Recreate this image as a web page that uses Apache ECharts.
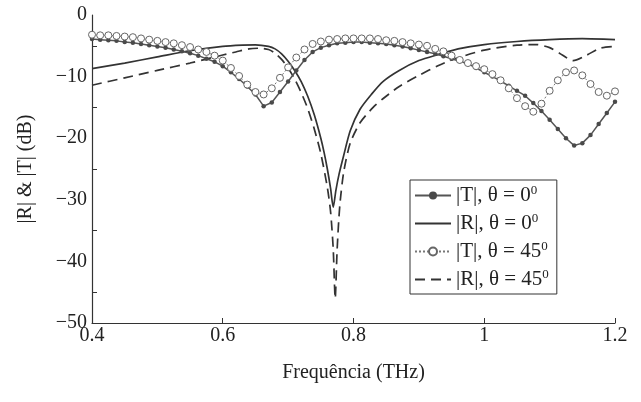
<!DOCTYPE html>
<html><head><meta charset="utf-8">
<script src="https://cdn.jsdelivr.net/npm/echarts@6/dist/echarts.min.js"></script>
<style>html,body{margin:0;padding:0;background:#fff}#c{width:641px;height:402px}</style>
</head><body><div id="c"></div>
<script>
// Frequency grid of the marker series (THz)
const freqT = [0.4,0.4125,0.425,0.4375,0.45,0.4625,0.475,0.4875,0.5,0.5125,0.525,0.5375,0.55,0.5625,0.575,0.5875,
  0.6,0.6125,0.625,0.6375,0.65,0.6625,0.675,0.6875,0.7,0.7125,0.725,0.7375,0.75,0.7625,0.775,0.7875,
  0.8,0.8125,0.825,0.8375,0.85,0.8625,0.875,0.8875,0.9,0.9125,0.925,0.9375,0.95,0.9625,0.975,0.9875,
  1.0,1.0125,1.025,1.0375,1.05,1.0625,1.075,1.0875,1.1,1.1125,1.125,1.1375,1.15,1.1625,1.175,1.1875,1.2];
// |T|, theta = 0 (dB)
const tNormal = [-3.9,-4.0,-4.1,-4.2,-4.4,-4.5,-4.7,-4.9,-5.1,-5.3,-5.6,-5.9,-6.2,-6.6,-7.1,-7.6,
  -8.3,-9.3,-10.4,-11.6,-12.9,-14.8,-14.2,-12.5,-10.8,-9.0,-7.3,-6.0,-5.3,-4.9,-4.6,-4.5,
  -4.4,-4.4,-4.5,-4.6,-4.7,-4.9,-5.1,-5.4,-5.7,-6.0,-6.3,-6.7,-7.1,-7.5,-7.9,-8.6,
  -9.3,-10.0,-10.7,-11.5,-12.3,-13.1,-14.3,-15.6,-17.0,-18.5,-20.0,-21.2,-20.8,-19.5,-17.7,-15.9,-14.1];
// |T|, theta = 45 (dB)
const tOblique = [-3.2,-3.3,-3.3,-3.4,-3.5,-3.6,-3.8,-4.0,-4.2,-4.4,-4.6,-4.9,-5.2,-5.6,-6.0,-6.6,
  -7.4,-8.6,-9.9,-11.3,-12.5,-12.9,-11.9,-10.2,-8.5,-6.9,-5.6,-4.7,-4.3,-4.0,-3.9,-3.8,
  -3.8,-3.8,-3.8,-3.9,-4.1,-4.2,-4.4,-4.6,-4.8,-5.0,-5.5,-5.9,-6.6,-7.3,-7.8,-8.3,
  -8.8,-9.6,-10.6,-11.9,-13.5,-14.8,-15.7,-14.4,-12.3,-10.6,-9.3,-9.0,-9.8,-11.2,-12.5,-13.1,-12.4];
// |R|, theta = 0
const freqR0 = [0.4,0.45,0.5,0.55,0.6,0.63,0.65,0.67,0.68,0.69,0.7,0.71,0.72,0.73,0.74,0.75,0.755,0.76,0.765,0.769,
  0.773,0.778,0.785,0.795,0.81,0.828,0.845,0.87,0.9,0.93,0.96,1.0,1.05,1.1,1.15,1.2];
const rNormal = [-8.7,-7.8,-6.8,-5.8,-5.1,-4.9,-4.85,-5.1,-5.5,-6.3,-7.5,-9.0,-10.8,-13.2,-16.2,-20.0,-22.3,-25.0,-28.2,-31.2,
  -28.5,-25.8,-22.8,-18.8,-15.3,-12.8,-10.8,-9.0,-7.4,-6.4,-5.5,-4.8,-4.3,-4.0,-3.85,-4.0];
// |R|, theta = 45
const freqR45 = [0.4,0.45,0.5,0.55,0.6,0.62,0.64,0.655,0.67,0.68,0.69,0.7,0.71,0.72,0.73,0.74,0.75,0.76,0.765,0.769,0.772,
  0.775,0.779,0.785,0.795,0.81,0.83,0.845,0.87,0.9,0.93,0.95,1.0,1.05,1.08,1.1,1.115,1.136,1.157,1.177,1.2];
const rOblique = [-11.4,-10.2,-9.0,-7.8,-6.5,-6.0,-5.5,-5.4,-5.6,-6.2,-7.2,-8.6,-10.4,-12.6,-15.2,-18.5,-22.5,-28.0,-32.0,-38.0,-46.0,
  -38.0,-31.0,-25.5,-20.8,-17.5,-15.0,-13.6,-11.6,-9.8,-8.2,-7.3,-5.7,-4.9,-4.8,-5.3,-6.2,-7.4,-6.5,-5.4,-5.1];

const names = ['|T|, θ = 0', '|R|, θ = 0', '|T|, θ = 45', '|R|, θ = 45'];
const xTitle = 'Frequência (THz)';
const yTitle = '|R| & |T| (dB)';

const pair = (xs, ys) => xs.map((x, i) => [x, ys[i]]);
const FONT = 'Liberation Serif';

const chart = echarts.init(document.getElementById('c'), null, {renderer: 'canvas'});
chart.setOption({
  animation: false,
  backgroundColor: '#fff',
  grid: {left: 92, right: 26, top: 15, bottom: 79},
  xAxis: {
    type: 'value', min: 0.4, max: 1.2, interval: 0.2,
    name: xTitle, nameLocation: 'middle', nameGap: 40,
    nameTextStyle: {fontFamily: FONT, fontSize: 20, color: '#222'},
    axisLine: {onZero: false, lineStyle: {color: '#333', width: 1.2}},
    axisTick: {show: true, inside: true, length: 5, lineStyle: {color: '#333'}},
    axisLabel: {fontFamily: FONT, fontSize: 20, color: '#222', margin: 3},
    splitLine: {show: false}
  },
  yAxis: {
    type: 'value', min: -50, max: 0, interval: 10,
    name: yTitle, nameLocation: 'middle', nameGap: 56, nameRotate: 90,
    nameTextStyle: {fontFamily: FONT, fontSize: 20, color: '#222'},
    axisLine: {show: true, onZero: false, lineStyle: {color: '#333', width: 1.2}},
    axisTick: {show: false, inside: true, length: 5},
    minorTick: {show: true, splitNumber: 2, length: 5, lineStyle: {color: '#333'}},
    axisLabel: {fontFamily: FONT, fontSize: 20, color: '#222', margin: 5,
      formatter: v => v === 0 ? '0' : '\u2212' + Math.abs(v)},
    splitLine: {show: false}
  },
  legend: {
    orient: 'vertical', left: 410, top: 180,
    backgroundColor: '#fff', borderColor: '#333', borderWidth: 1,
    padding: [4, 8, 4, 4], itemGap: 6, itemWidth: 36, itemHeight: 10,
    data: [
      {name: names[0]},
      {name: names[1], itemStyle: {opacity: 0}},
      {name: names[2]},
      {name: names[3], itemStyle: {opacity: 0}}
    ],
    formatter: n => '{n|' + n + '}{s|0}',
    textStyle: {fontFamily: FONT, fontSize: 21, color: '#222',
      rich: {n: {fontFamily: FONT, fontSize: 21, color: '#222'},
             s: {fontFamily: FONT, fontSize: 13, color: '#222', verticalAlign: 'top', padding: [0, 0, 10, 0]}}}
  },
  series: [
    {name: names[0], type: 'line', data: pair(freqT, tNormal), symbol: 'circle', symbolSize: 4.5, showSymbol: true, showAllSymbol: true,
     lineStyle: {color: '#555', width: 1.5}, itemStyle: {color: '#4a4a4a', borderWidth: 0}, z: 3},
    {name: names[1], type: 'line', data: pair(freqR0, rNormal), symbol: 'none', smooth: 0.25,
     lineStyle: {color: '#333', width: 1.7}, itemStyle: {color: '#333'}, z: 2},
    {name: names[2], type: 'line', data: pair(freqT, tOblique), symbol: 'circle', symbolSize: 7, showSymbol: true, showAllSymbol: true,
     lineStyle: {color: '#777', width: 1, type: [2, 2]}, itemStyle: {color: '#fff', borderColor: '#666', borderWidth: 1}, z: 4},
    {name: names[3], type: 'line', data: pair(freqR45, rOblique), symbol: 'none', smooth: 0.25,
     lineStyle: {color: '#333', width: 1.7, type: [10, 6]}, itemStyle: {color: '#333'}, z: 2}
  ]
});
</script></body></html>
